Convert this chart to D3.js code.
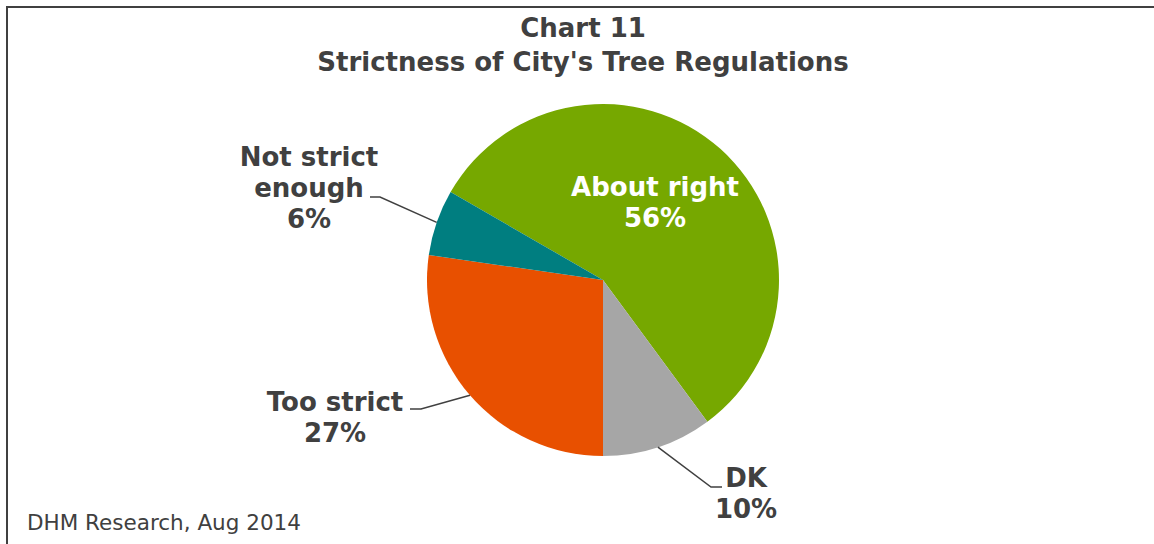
<!DOCTYPE html>
<html>
<head>
<title>chart11</title>
<script src="https://d3js.org/d3.v7.min.js"></script>
<style>
  body { margin: 0; background: #fff; }
  text { font-family: "DejaVu Sans", Verdana, sans-serif; }
</style>
</head>
<body>
<svg width="1154" height="544" id="mainsvg"></svg>
<script>
  // data
  const categories = ['About right', 'DK', 'Too strict', 'Not strict enough'];
  const values = [56, 10, 27, 6];
  const colors = ['#76A800', '#A6A6A6', '#E85000', '#007E80'];

  // label placement (layout only), relative to pie centre
  const labelLines = [['About right'], ['DK'], ['Too strict'], ['Not strict', 'enough']];
  const labelPos = [
    { x: 52, y: -84, anchor: 'middle', fill: '#fff', leader: null },
    { x: 143, y: 207, anchor: 'middle', fill: '#404040', leader: [[108, 207], [119, 207]] },
    { x: -268, y: 131, anchor: 'middle', fill: '#404040', leader: [[-182, 129], [-193, 129]] },
    { x: -294, y: -114, anchor: 'middle', fill: '#404040', leader: [[-223, -83], [-233, -83]] }
  ];

  const svg = d3.select('#mainsvg');
  const width = +svg.attr('width'), height = +svg.attr('height');
  const cx = 603, cy = 280, radius = 176;
  const textColor = '#404040';

  // frame
  svg.append('rect')
    .attr('x', 7).attr('y', 7)
    .attr('width', width + 20).attr('height', height + 20)
    .attr('fill', 'none').attr('stroke', '#404040').attr('stroke-width', 2);

  // title
  const title = svg.append('text')
    .attr('text-anchor', 'middle')
    .attr('font-size', 26).attr('font-weight', 'bold')
    .attr('fill', textColor);
  title.append('tspan').attr('x', 583).attr('y', 37).text('Chart 11');
  title.append('tspan').attr('x', 583).attr('y', 71).text("Strictness of City's Tree Regulations");

  const pie = d3.pie().sort(null)
    .startAngle(-Math.PI / 3)
    .endAngle(-Math.PI / 3 + 2 * Math.PI);
  const arcs = pie(values);
  const arc = d3.arc().innerRadius(0).outerRadius(radius);

  const g = svg.append('g').attr('transform', `translate(${cx},${cy})`);

  g.selectAll('path.slice').data(arcs).enter().append('path')
    .attr('class', 'slice')
    .attr('d', arc)
    .attr('fill', (d, i) => colors[i]);

  // leader lines
  arcs.forEach((d, i) => {
    const lp = labelPos[i];
    if (!lp.leader) return;
    const mid = (d.startAngle + d.endAngle) / 2;
    const edge = [Math.sin(mid) * radius, -Math.cos(mid) * radius];
    g.append('polyline')
      .attr('points', [edge, lp.leader[0], lp.leader[1]].map(p => p.join(',')).join(' '))
      .attr('fill', 'none')
      .attr('stroke', '#404040')
      .attr('stroke-width', 1.5);
  });

  // labels
  arcs.forEach((d, i) => {
    const lp = labelPos[i];
    const lines = labelLines[i].concat([values[i] + '%']);
    const t = g.append('text')
      .attr('text-anchor', lp.anchor)
      .attr('font-size', 26).attr('font-weight', 'bold')
      .attr('fill', lp.fill);
    lines.forEach((s, k) => {
      t.append('tspan')
        .attr('x', lp.x)
        .attr('y', lp.y + k * 31)
        .text(s);
    });
  });

  // source
  svg.append('text')
    .attr('x', 27).attr('y', 530)
    .attr('font-size', 21.5)
    .attr('fill', textColor)
    .text('DHM Research, Aug 2014');
</script>
</body>
</html>
